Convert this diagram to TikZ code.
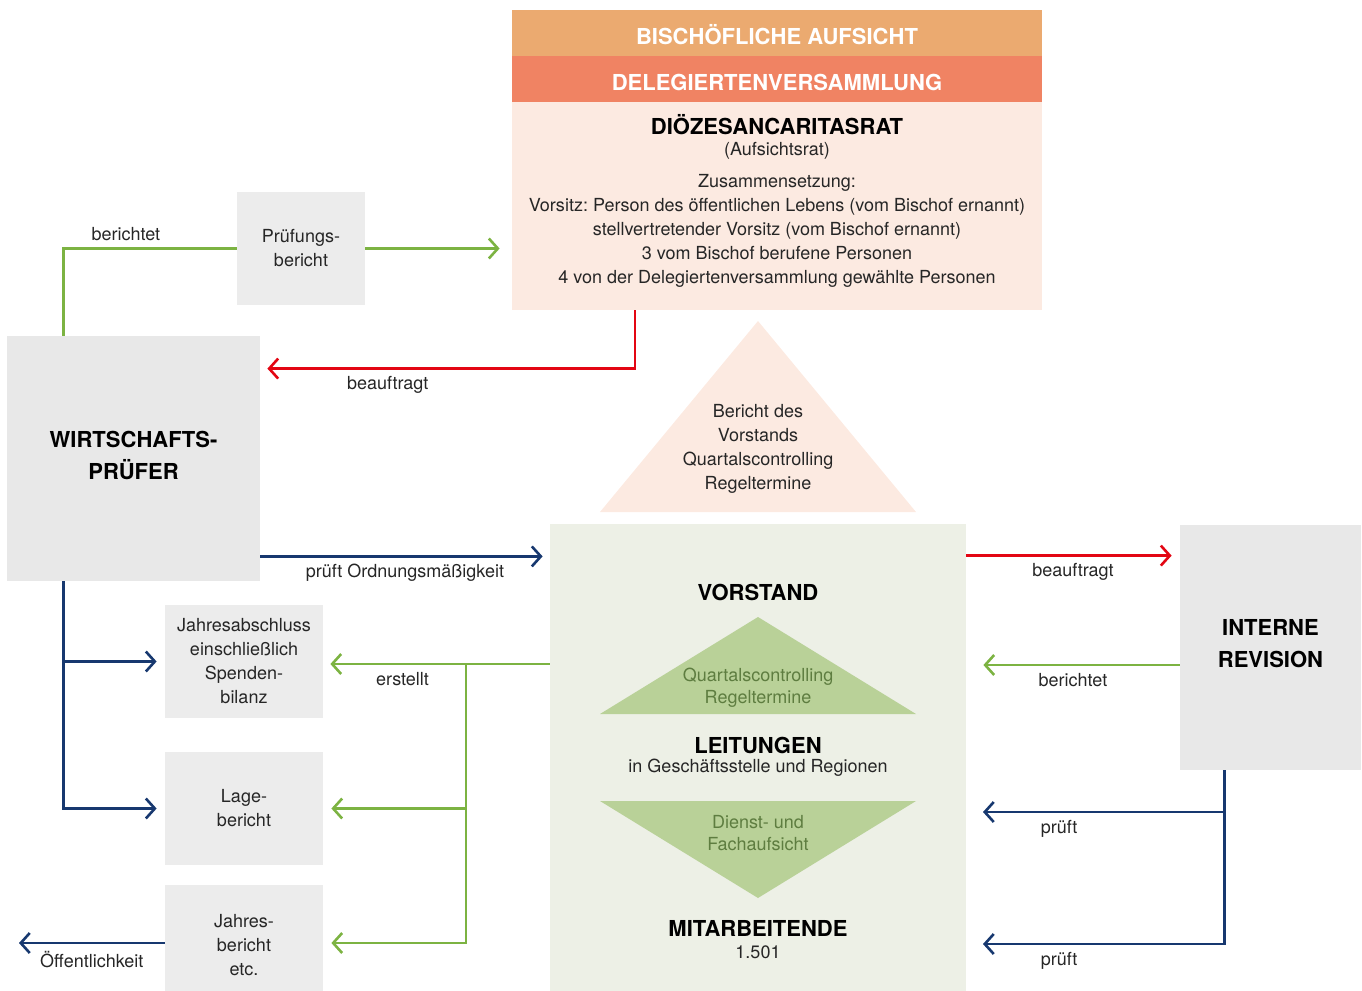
\documentclass[tikz,border=0pt]{standalone}
\usepackage{fontspec}
\setmainfont{TeX Gyre Heros}
\usetikzlibrary{arrows.meta}
\definecolor{orangeA}{HTML}{EBAA70}
\definecolor{orangeB}{HTML}{F08363}
\definecolor{pale}{HTML}{FCEAE1}
\definecolor{greyA}{HTML}{E8E8E8}
\definecolor{greyB}{HTML}{ECECEC}
\definecolor{greenbg}{HTML}{EDF0E6}
\definecolor{greentri}{HTML}{B9D198}
\definecolor{greentxt}{HTML}{5E7D40}
\definecolor{lgreen}{HTML}{7CB342}
\definecolor{cred}{HTML}{E30613}
\definecolor{cblue}{HTML}{17386F}
\frenchspacing
\begin{document}
\begin{tikzpicture}[x=0.5pt, y=-0.5pt,
    every node/.style={font=\fontsize{9}{12}\selectfont, align=center, text=black!85},
    head/.style={font=\fontsize{11}{16}\selectfont\bfseries, text=black},
    box/.style={rectangle, inner sep=0pt, fill=#1},
    con/.style={line width=1.3pt, draw=#1},
    >={Straight Barb[length=4.5pt,width=10pt]}]
  \useasboundingbox (0,0) rectangle (1362,991);

  % Aufsicht
  \node[box=orangeA, minimum width=265pt, minimum height=23pt] at (777,33) (bis) {};
  \node[head, text=white] at (777,35) (bisT) {BISCHÖFLICHE AUFSICHT};
  \node[box=orangeB, minimum width=265pt, minimum height=23pt] at (777,79) (del) {};
  \node[head, text=white] at (777,82) (delT) {DELEGIERTENVERSAMMLUNG};
  \node[box=pale, minimum width=265pt, minimum height=104pt] at (777,206) (rat) {};
  \node[head] at (777,125) (ratT) {DIÖZESANCARITASRAT};
  \node at (777,151) (ratS) {(Aufsichtsrat)};
  \node at (777,231) (ratZ) {Zusammensetzung:\\
    Vorsitz: Person des öffentlichen Lebens (vom Bischof ernannt)\\
    stellvertretender Vorsitz (vom Bischof ernannt)\\
    3 vom Bischof berufene Personen\\
    4 von der Delegiertenversammlung gewählte Personen};
  \fill[pale] (758,321) -- (916,512) -- (600,512) -- cycle;
  \node at (758,449) (ber) {Bericht des\\ Vorstands\\ Quartalscontrolling\\ Regeltermine};

  % Pruefer
  \node[box=greyA, minimum width=126.5pt, minimum height=122.5pt] at (133.5,458.5) (wp) {};
  \node[head] at (133.5,455) (wpT) {WIRTSCHAFTS-\\PRÜFER};
  \node[box=greyB, minimum width=64pt, minimum height=56.5pt] at (301,248.5) (pb) {Prüfungs-\\bericht};
  \node[box=greyB, minimum width=79pt, minimum height=56.5pt] at (244,661.5) (ja) {Jahresabschluss\\ einschließlich\\ Spenden-\\ bilanz};
  \node[box=greyB, minimum width=79pt, minimum height=56.5pt] at (244,808.5) (lb) {Lage-\\bericht};
  \node[box=greyB, minimum width=79pt, minimum height=53pt] at (244,938) (jb) {};
  \node at (244,945) (jbT) {Jahres-\\bericht\\ etc.};

  % Vorstand
  \node[box=greenbg, minimum width=208pt, minimum height=233.5pt] at (758,757.5) (vor) {};
  \node[head] at (758,592) (vorT) {VORSTAND};
  \fill[greentri] (758,617) -- (916,714) -- (600,714) -- cycle;
  \node[text=greentxt, font=\fontsize{9}{11}\selectfont] at (758,688) (qr) {Quartalscontrolling\\ Regeltermine};
  \node[head] at (758,745) (lt) {LEITUNGEN};
  \node at (758,768) (ltS) {in Geschäftsstelle und Regionen};
  \fill[greentri] (600,801) -- (916,801) -- (758,898) -- cycle;
  \node[text=greentxt, font=\fontsize{9}{11}\selectfont] at (758,833) (df) {Dienst- und\\ Fachaufsicht};
  \node[head] at (758,928) (ma) {MITARBEITENDE};
  \node at (758,952) (maS) {1.501};

  \node[box=greyA, minimum width=90.5pt, minimum height=122.5pt] at (1270.5,647.5) (ir) {};
  \node[head] at (1270.5,644) (irT) {INTERNE\\REVISION};

  % Verbindungen links
  \draw[con=lgreen] ([xshift=28.5pt]wp.north west) |- (pb) node[pos=0.68, above] (lBer) {berichtet};
  \draw[con=lgreen, ->, shorten >=6pt] (pb) -- (rat.west |- pb);
  \draw[con=cred, ->, shorten >=3.5pt] ([xshift=-71pt]rat.south) |- ([yshift=-16.5pt]wp.north east) node[pos=0.83, below] (lBea) {beauftragt};
  \coordinate (wpO) at ([yshift=12.5pt]wp.south east);
  \draw[con=cblue, ->, shorten >=3.5pt] (wpO) -- (vor.west |- wpO) node[midway, below] (lOrd) {prüft Ordnungsmäßigkeit};
  \coordinate (wpS) at ([xshift=28.5pt]wp.south west);
  \draw[con=cblue, ->, shorten >=4pt] (wpS) |- (ja);
  \draw[con=cblue, ->, shorten >=4pt] (wpS) |- (lb);
  \coordinate (oef) at (19,943);
  \draw[con=cblue, ->] (jb.west |- oef) -- (oef) node[midway, below] (lOef) {Öffentlichkeit};
  \coordinate (er) at (466,664);
  \draw[con=lgreen, ->, shorten >=3.5pt] (vor.west |- er) -- (ja.east |- er) node[pos=0.65, below] (lErs) {erstellt};
  \draw[con=lgreen, ->, shorten >=4pt] (er) |- (lb);
  \draw[con=lgreen, ->, shorten >=4pt] (er) |- (jb.east |- oef);

  % Verbindungen rechts
  \coordinate (irA) at ([yshift=-15.5pt]ir.north west);
  \draw[con=cred, ->, shorten >=4pt] (vor.east |- irA) -- (irA) node[midway, below] (lBeaB) {beauftragt};
  \coordinate (irB) at ([yshift=-8.75pt]ir.west);
  \draw[con=lgreen, ->, shorten >=8.5pt] (irB) -- (vor.east |- irB) node[midway, below] (lBerB) {berichtet};
  \coordinate (irS) at ([xshift=22.5pt]ir.south west);
  \coordinate (pA) at (966,812);
  \coordinate (pB) at (966,944);
  \draw[con=cblue, ->, shorten >=8.5pt] (irS) |- (pA) node[pos=0.82, below] (lPrA) {prüft};
  \draw[con=cblue, ->, shorten >=8.5pt] (irS) |- (pB) node[pos=0.82, below] (lPrB) {prüft};
\end{tikzpicture}
\end{document}
